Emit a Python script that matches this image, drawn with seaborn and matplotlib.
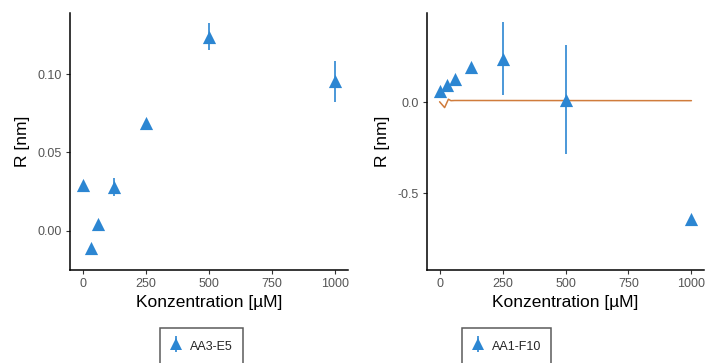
import numpy as np
import pandas as pd
import matplotlib
matplotlib.use("Agg")
import matplotlib.pyplot as plt
from matplotlib.lines import Line2D
from matplotlib.legend_handler import HandlerTuple
import seaborn as sns

# ---- data ----
conc = [0, 31.25, 62.5, 125, 250, 500, 1000]

left_R = [0.029, -0.011, 0.0045, 0.028, 0.0686, 0.1238, 0.0955]
left_err = [0.0, 0.0, 0.0, 0.006, 0.0, 0.0085, 0.013]
left_name = "AA3-E5"

right_R = [0.060, 0.092, 0.128, 0.192, 0.238, 0.013, -0.641]
right_err = [0.0, 0.0, 0.0, 0.0, 0.20, 0.30, 0.0]
right_name = "AA1-F10"

fit_x = [0, 20, 35, 45, 60, 1000]
fit_y = [0.002, -0.030, 0.016, 0.008, 0.009, 0.008]

x_ticks = [0, 250, 500, 750, 1000]
left_yticks = [0.00, 0.05, 0.10]
right_yticks = [-0.5, 0.0]

BLUE = "#2C86D2"
ORANGE = "#D07C3C"

sns.set_theme(style="white")
plt.rcParams['font.family'] = ['Liberation Sans', 'DejaVu Sans']
plt.rcParams['axes.unicode_minus'] = False

fig = plt.figure(figsize=(7.10, 3.63), dpi=100)
W, H = 710, 363
def pos(x0, x1, y0, y1):
    return [x0 / W, 1 - y1 / H, (x1 - x0) / W, (y1 - y0) / H]

axL = fig.add_axes(pos(70, 348, 13, 270))
axR = fig.add_axes(pos(427, 704, 13, 270))

def style(ax):
    for s in ["top", "right"]:
        ax.spines[s].set_visible(False)
    for s in ["left", "bottom"]:
        ax.spines[s].set_color("black")
        ax.spines[s].set_linewidth(1.1)
    ax.tick_params(axis="both", which="both", direction="out", length=3, width=0.8,
                   color="#333333", labelsize=9, labelcolor="#555555", pad=3,
                   left=True, bottom=True)
    ax.set_xlabel("Konzentration [µM]", fontsize=12.5, color="black", labelpad=3)
    ax.set_ylabel("R [nm]", fontsize=12.5, color="black", labelpad=5)
    ax.grid(False)

def panel(ax, R, err, yticks, fmt, ylim):
    df = pd.DataFrame({"x": conc, "R": R, "err": err})
    d = df[df.err > 0]
    ax.errorbar(d.x, d.R, yerr=d.err, fmt="none", ecolor=BLUE, elinewidth=1.2, zorder=2)
    sns.scatterplot(data=df, x="x", y="R", ax=ax, marker="^", s=90, color=BLUE,
                    linewidth=0, zorder=3, legend=False)
    ax.set_xlim(-50, 1050)
    ax.set_ylim(*ylim)
    ax.set_xticks(x_ticks)
    ax.set_xticklabels([str(t) for t in x_ticks])
    ax.set_yticks(yticks)
    ax.set_yticklabels([fmt.format(t) for t in yticks])

panel(axL, left_R, left_err, left_yticks, "{:.2f}", (-0.025, 0.139))
panel(axR, right_R, right_err, right_yticks, "{:.1f}", (-0.921, 0.489))

sns.lineplot(x=fit_x, y=fit_y, ax=axR, color=ORANGE, linewidth=1.1, zorder=1, estimator=None)

style(axL)
style(axR)

def handle():
    return (Line2D([], [], marker="|", markersize=11.5, markeredgewidth=1.2, color=BLUE, ls=""),
            Line2D([], [], marker="^", markersize=8, color=BLUE, markeredgewidth=0, ls=""))

for name, x0 in [(left_name, 160), (right_name, 462)]:
    leg = fig.legend([handle()], [name], loc="upper left",
                     bbox_to_anchor=(x0 / W, 1 - 328 / H), frameon=True, fontsize=9,
                     handler_map={tuple: HandlerTuple(ndivide=1)},
                     handlelength=1.0, handleheight=1.6, handletextpad=0.6,
                     borderpad=0.8, borderaxespad=0, fancybox=False)
    leg.get_frame().set_edgecolor("#333333")
    leg.get_frame().set_linewidth(1.1)

fig.savefig("out.png", dpi=100)
